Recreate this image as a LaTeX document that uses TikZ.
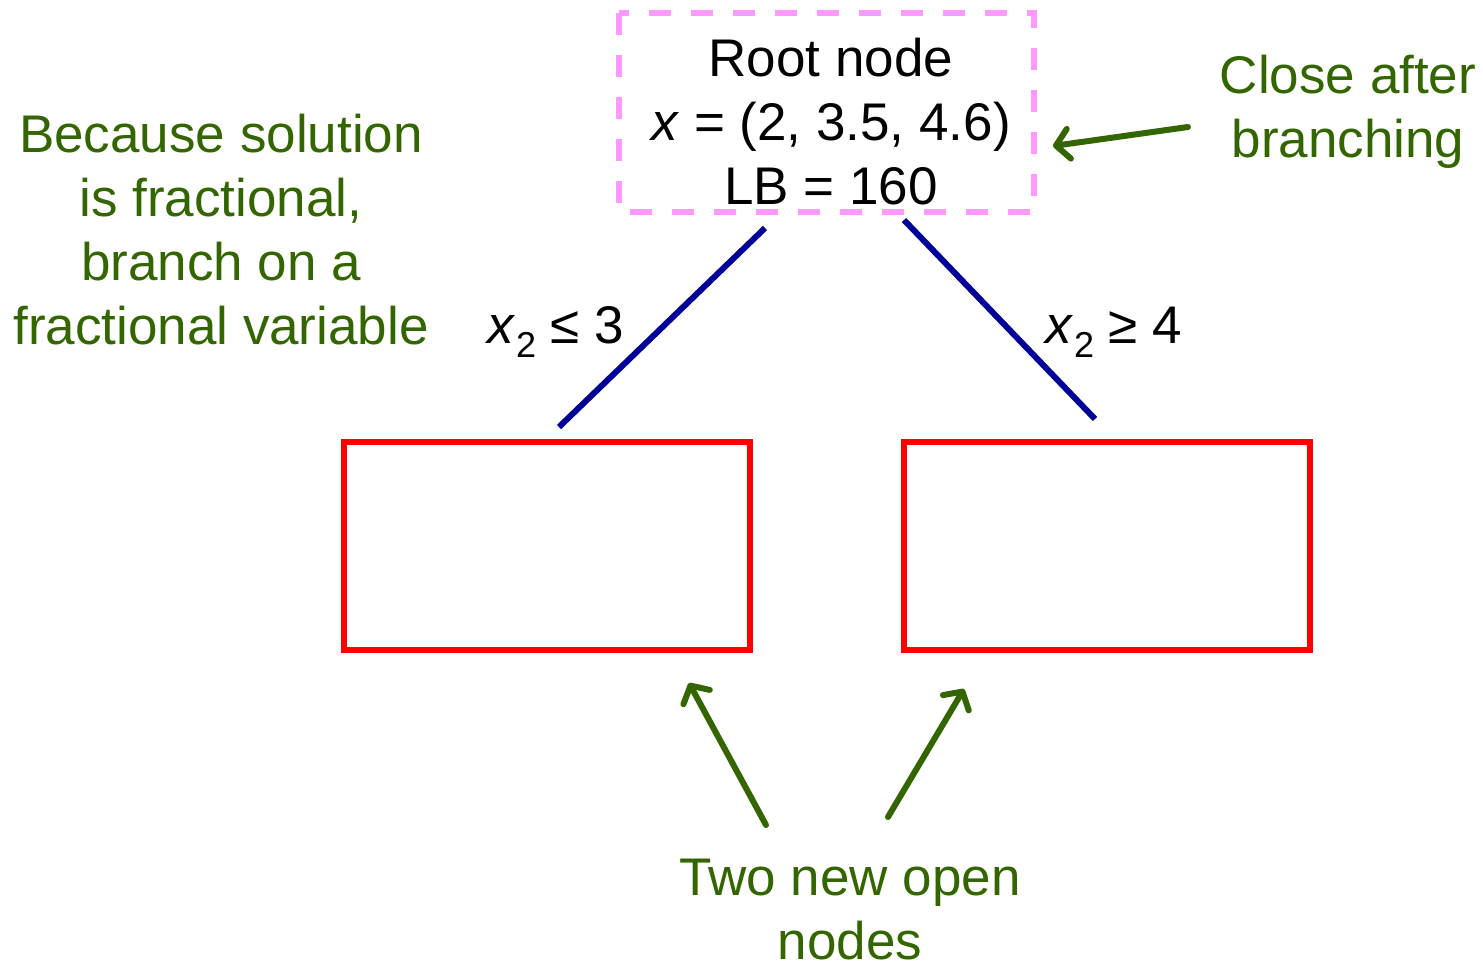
\documentclass[tikz,border=0pt]{standalone}
\usepackage{fontspec}
\setmainfont{Liberation Sans}
\usetikzlibrary{arrows.meta}
\definecolor{notegreen}{RGB}{51,102,0}
\definecolor{rootpink}{RGB}{255,153,255}
\definecolor{branchblue}{RGB}{0,0,153}
\definecolor{openred}{RGB}{255,0,0}
\newcommand{\bigtext}{\fontsize{53}{64}\selectfont}
\newcommand{\subtwo}{\raisebox{-0.28em}{\fontsize{36}{40}\selectfont 2}}
\begin{document}
\begin{tikzpicture}[x=1pt,y=-1pt,
  txt/.style={font=\bigtext, align=center, inner sep=0pt},
  note/.style={txt, text=notegreen},
  rootbox/.style={draw=rootpink, line width=5.5pt, dash pattern=on 22pt off 20pt},
  openbox/.style={draw=openred, line width=6.5pt},
  branch/.style={draw=branchblue, line width=6pt},
  pointer/.style={draw=notegreen, line width=6pt, line cap=round,
    -{Straight Barb[length=13pt,width=30pt,line cap=round,line join=round]}}]
\useasboundingbox (0,0) rectangle (1483,966);

% root node with its dashed frame
\draw[rootbox] (619,13) rectangle (1034,212);
\node[txt] (root) at (831,122) {Root node\\\textit{x} = (2, 3.5, 4.6)\\LB = 160};
\coordinate (rootL) at (765,228);
\coordinate (rootR) at (904,220);

% the two new subproblems
\node[openbox, minimum width=406pt, minimum height=208pt, inner sep=0pt] (left) at (547,546) {};
\node[openbox, minimum width=406pt, minimum height=208pt, inner sep=0pt] (right) at (1107,546) {};
\coordinate (leftT) at (559,427);
\coordinate (rightT) at (1095,419);

% branching edges and their constraints
\draw[branch] (rootL) -- (leftT);
\draw[branch] (rootR) -- (rightT);
\node[txt, anchor=base] (cl) at (556,343) {\textit{x}\subtwo\ ≤ 3};
\node[txt, anchor=base] (cr) at (1114,343) {\textit{x}\subtwo\ ≥ 4};

% green annotations
\node[note] (why) at (221,230) {Because solution\\is fractional,\\branch on a\\fractional variable};
\node[note] (close) at (1348,112) {Close after\\branching};
\node[note] (two) at (850,910) {Two new open\\nodes};

\coordinate (closeS) at (1188,127);
\coordinate (closeE) at (1053,146);
\draw[pointer] (closeS) -- (closeE);
\coordinate (twoL) at (766,825);
\coordinate (twoR) at (888,817);
\coordinate (tipL) at (689,683);
\coordinate (tipR) at (964,689);
\draw[pointer] (twoL) -- (tipL);
\draw[pointer] (twoR) -- (tipR);
\end{tikzpicture}
\end{document}
